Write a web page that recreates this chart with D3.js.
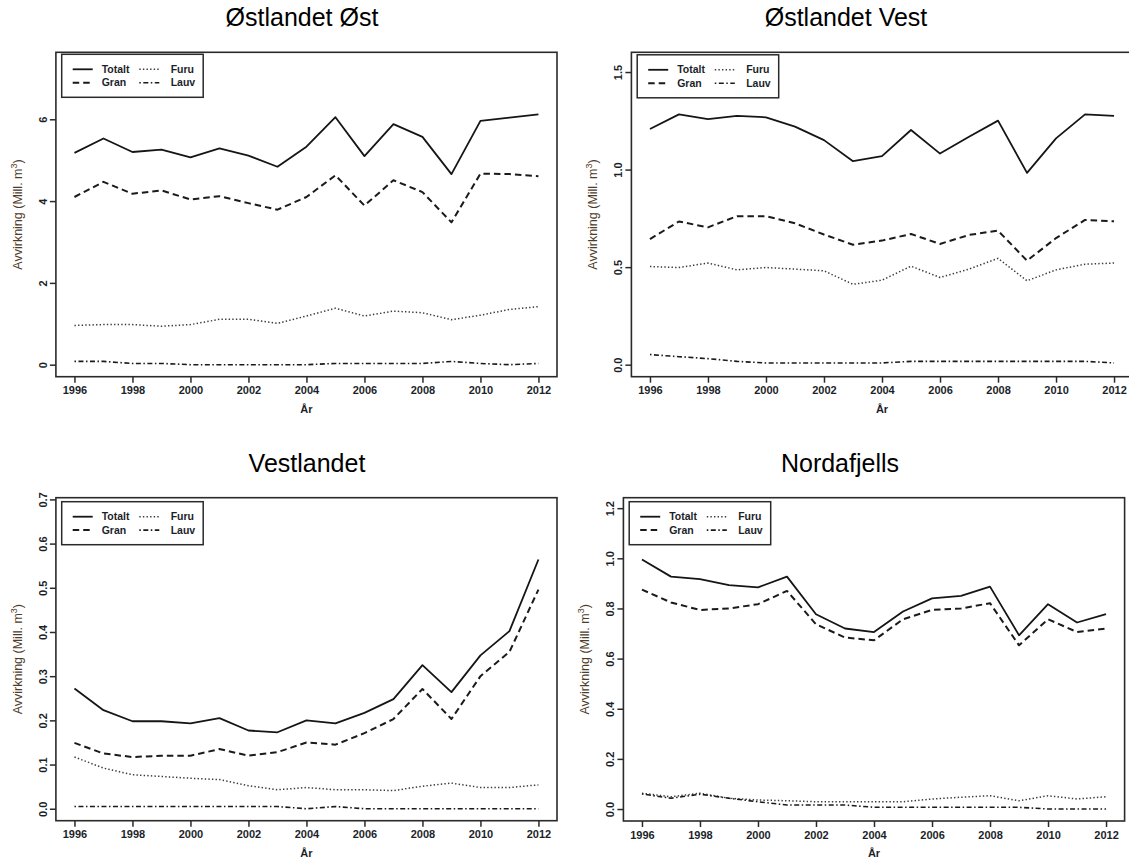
<!DOCTYPE html>
<html>
<head>
<meta charset="utf-8">
<script src="https://cdn.jsdelivr.net/npm/d3@7"></script>
<style>
  html, body { margin: 0; padding: 0; background: #fff; }
  svg { display: block; }
</style>
</head>
<body>
<svg id="chart" width="1129" height="858"></svg>
<script>
// Years on the x axis
const years = [1996, 1997, 1998, 1999, 2000, 2001, 2002, 2003, 2004, 2005, 2006, 2007, 2008, 2009, 2010, 2011, 2012];
const xTicks = [1996, 1998, 2000, 2002, 2004, 2006, 2008, 2010, 2012];

// Østlandet Øst (mill. m3)
const ostOstTotalt = [5.18, 5.53, 5.20, 5.26, 5.07, 5.29, 5.11, 4.84, 5.33, 6.05, 5.10, 5.88, 5.57, 4.66, 5.96, 6.04, 6.12];
const ostOstGran   = [4.10, 4.47, 4.18, 4.26, 4.04, 4.12, 3.95, 3.79, 4.10, 4.63, 3.89, 4.51, 4.22, 3.48, 4.67, 4.66, 4.61];
const ostOstFuru   = [0.96, 0.98, 0.98, 0.94, 0.98, 1.11, 1.11, 1.01, 1.19, 1.38, 1.19, 1.31, 1.27, 1.10, 1.21, 1.35, 1.42];
const ostOstLauv   = [0.08, 0.08, 0.03, 0.03, 0.00, 0.00, 0.00, 0.00, 0.00, 0.03, 0.03, 0.03, 0.03, 0.08, 0.03, 0.00, 0.03];
const ostOstTicks  = [0, 2, 4, 6];

// Østlandet Vest
const ostVestTotalt = [1.208, 1.283, 1.259, 1.275, 1.268, 1.220, 1.151, 1.043, 1.069, 1.203, 1.082, 1.168, 1.251, 0.983, 1.160, 1.283, 1.275];
const ostVestGran   = [0.644, 0.734, 0.704, 0.761, 0.761, 0.725, 0.667, 0.615, 0.636, 0.670, 0.619, 0.665, 0.687, 0.533, 0.649, 0.742, 0.735];
const ostVestFuru   = [0.503, 0.498, 0.521, 0.486, 0.498, 0.490, 0.481, 0.412, 0.433, 0.505, 0.447, 0.490, 0.545, 0.430, 0.486, 0.515, 0.521];
const ostVestLauv   = [0.052, 0.041, 0.031, 0.017, 0.009, 0.009, 0.009, 0.009, 0.009, 0.017, 0.017, 0.017, 0.017, 0.017, 0.017, 0.017, 0.009];
const ostVestTicks  = [0.0, 0.5, 1.0, 1.5];

// Vestlandet
const vestTotalt = [0.272, 0.223, 0.198, 0.198, 0.193, 0.205, 0.177, 0.173, 0.200, 0.193, 0.217, 0.248, 0.325, 0.264, 0.347, 0.402, 0.564];
const vestGran   = [0.149, 0.125, 0.117, 0.120, 0.120, 0.135, 0.120, 0.128, 0.150, 0.145, 0.171, 0.203, 0.271, 0.203, 0.300, 0.355, 0.496];
const vestFuru   = [0.117, 0.092, 0.077, 0.073, 0.069, 0.066, 0.052, 0.043, 0.048, 0.043, 0.043, 0.041, 0.051, 0.058, 0.048, 0.048, 0.054];
const vestLauv   = [0.005, 0.005, 0.005, 0.005, 0.005, 0.005, 0.005, 0.005, 0.000, 0.005, 0.000, 0.000, 0.000, 0.000, 0.000, 0.000, 0.000];
const vestTicks  = [0.0, 0.1, 0.2, 0.3, 0.4, 0.5, 0.6, 0.7];

// Nordafjells
const nordTotalt = [0.995, 0.927, 0.917, 0.893, 0.884, 0.927, 0.777, 0.720, 0.706, 0.788, 0.840, 0.850, 0.887, 0.693, 0.817, 0.744, 0.777];
const nordGran   = [0.875, 0.824, 0.794, 0.800, 0.817, 0.870, 0.737, 0.684, 0.673, 0.757, 0.794, 0.800, 0.821, 0.653, 0.757, 0.706, 0.720];
const nordFuru   = [0.063, 0.049, 0.063, 0.043, 0.036, 0.033, 0.029, 0.029, 0.029, 0.029, 0.040, 0.047, 0.053, 0.033, 0.053, 0.040, 0.049];
const nordLauv   = [0.060, 0.043, 0.059, 0.043, 0.029, 0.016, 0.016, 0.016, 0.007, 0.007, 0.007, 0.007, 0.007, 0.007, 0.000, 0.000, 0.000];
const nordTicks  = [0.0, 0.2, 0.4, 0.6, 0.8, 1.0, 1.2];

const seriesNames = ["Totalt", "Gran", "Furu", "Lauv"];

// Line styles, one per tree-species series
const styles = {
  Totalt: { dash: null,              width: 1.8, color: "#151515" },
  Gran:   { dash: "6.5,4",           width: 2.0, color: "#1a1a1a" },
  Furu:   { dash: "1.4,2.2",         width: 1.5, color: "#3a3a3a" },
  Lauv:   { dash: "1.5,2.5,5,2.5",   width: 1.6, color: "#1a1a1a" }
};

// Panel placement on the page
const panels = [
  { title: "Østlandet Øst",  titleX: 302, series: [ostOstTotalt, ostOstGran, ostOstFuru, ostOstLauv], ticks: ostOstTicks, fmt: d3.format("d"),
    box: { left: 55.9, right: 557, top: 52.3, bottom: 376.7 }, legendDy: 2 },
  { title: "Østlandet Vest", titleX: 846, series: [ostVestTotalt, ostVestGran, ostVestFuru, ostVestLauv], ticks: ostVestTicks, fmt: d3.format(".1f"),
    box: { left: 631.4, right: 1132.6, top: 52.3, bottom: 376.7 }, legendDy: 2.5 },
  { title: "Vestlandet",     titleX: 307, series: [vestTotalt, vestGran, vestFuru, vestLauv], ticks: vestTicks, fmt: d3.format(".1f"),
    box: { left: 55.9, right: 557, top: 497.7, bottom: 820.7 }, legendDy: 4 },
  { title: "Nordafjells",    titleX: 840, series: [nordTotalt, nordGran, nordFuru, nordLauv], ticks: nordTicks, fmt: d3.format(".1f"),
    box: { left: 623.4, right: 1124.6, top: 497.7, bottom: 821 }, legendDy: 4 }
];

const svg = d3.select("#chart");
const FONT = "'Liberation Sans', Arial, sans-serif";
const axisColor = "#2a2a2a";
const labelColor = "#1c1f2a";

panels.forEach(p => {
  const b = p.box;
  const g = svg.append("g");

  // Axis ranges padded by 4% on each side
  const xPad = (years[years.length - 1] - years[0]) * 0.04;
  const x = d3.scaleLinear()
    .domain([years[0] - xPad, years[years.length - 1] + xPad])
    .range([b.left, b.right]);
  const yMax = 1.2 * d3.max(p.series[0]);
  const y = d3.scaleLinear()
    .domain([-0.04 * yMax, 1.04 * yMax])
    .range([b.bottom, b.top]);

  // Title
  g.append("text")
    .attr("x", p.titleX).attr("y", b.top - 26)
    .attr("text-anchor", "middle")
    .attr("font-family", FONT).attr("font-size", 25)
    .attr("fill", "#000")
    .text(p.title);

  // Series lines
  const line = d3.line().x((d, i) => x(years[i])).y(d => y(d));
  p.series.forEach((vals, k) => {
    const s = styles[seriesNames[k]];
    g.append("path")
      .datum(vals)
      .attr("d", line)
      .attr("fill", "none")
      .attr("stroke", s.color)
      .attr("stroke-width", s.width)
      .attr("stroke-dasharray", s.dash)
      .attr("stroke-linejoin", "round");
  });

  // Bottom axis
  const xAxis = g.append("g").attr("transform", `translate(0,${b.bottom})`)
    .call(d3.axisBottom(x).tickValues(xTicks).tickFormat(d3.format("d")).tickSize(6).tickPadding(4));
  xAxis.select(".domain").remove();
  xAxis.selectAll(".tick line").attr("stroke", axisColor).attr("stroke-width", 1.5);
  xAxis.selectAll(".tick text")
    .attr("font-family", FONT).attr("font-size", 11).attr("font-weight", "bold")
    .attr("fill", labelColor);

  // Left axis with labels parallel to the axis
  const yAxis = g.append("g").attr("transform", `translate(${b.left},0)`)
    .call(d3.axisLeft(y).tickValues(p.ticks).tickFormat(p.fmt).tickSize(6).tickPadding(0));
  yAxis.select(".domain").remove();
  yAxis.selectAll(".tick line").attr("stroke", axisColor).attr("stroke-width", 1.5);
  yAxis.selectAll(".tick text")
    .attr("x", null).attr("dy", null)
    .attr("transform", "translate(-13,0) rotate(-90)")
    .attr("text-anchor", "middle")
    .attr("dominant-baseline", "central")
    .attr("font-family", FONT).attr("font-size", 11).attr("font-weight", "bold")
    .attr("fill", labelColor);

  // Plot frame
  g.append("rect")
    .attr("x", b.left).attr("y", b.top)
    .attr("width", b.right - b.left).attr("height", b.bottom - b.top)
    .attr("fill", "none").attr("stroke", axisColor).attr("stroke-width", 1.6);

  // Axis titles
  g.append("text")
    .attr("x", (b.left + b.right) / 2).attr("y", b.bottom + 36)
    .attr("text-anchor", "middle")
    .attr("font-family", FONT).attr("font-size", 11).attr("font-weight", "bold")
    .attr("fill", labelColor)
    .text("År");

  const yt = g.append("text")
    .attr("transform", `translate(${b.left - 34},${(b.top + b.bottom) / 2}) rotate(-90)`)
    .attr("text-anchor", "middle")
    .attr("font-family", FONT).attr("font-size", 12.5)
    .attr("fill", "#4e3c2a");
  yt.append("tspan").text("Avvirkning (Mill. m");
  yt.append("tspan").attr("font-size", 9).attr("dy", -5).text("3");
  yt.append("tspan").attr("dy", 5).text(")");

  // Legend
  const lx = b.left + 5.8, ly = b.top + p.legendDy;
  const lg = g.append("g").attr("transform", `translate(${lx},${ly})`);
  lg.append("rect")
    .attr("width", 141.5).attr("height", 43)
    .attr("fill", "#fff").attr("stroke", axisColor).attr("stroke-width", 1.5);
  const legendItems = [
    { name: "Totalt", col: 0, row: 0 },
    { name: "Furu",   col: 1, row: 0 },
    { name: "Gran",   col: 0, row: 1 },
    { name: "Lauv",   col: 1, row: 1 }
  ];
  legendItems.forEach(it => {
    const s = styles[it.name];
    const rowY = 15 + it.row * 13.4;
    const x0 = it.col === 0 ? 11 : 77.6;
    lg.append("line")
      .attr("x1", x0).attr("x2", x0 + 20)
      .attr("y1", rowY).attr("y2", rowY)
      .attr("stroke", s.color).attr("stroke-width", s.width)
      .attr("stroke-dasharray", s.dash);
    lg.append("text")
      .attr("x", it.col === 0 ? 40 : 109).attr("y", rowY)
      .attr("dy", "0.35em")
      .attr("font-family", FONT).attr("font-size", 10.5).attr("font-weight", "bold")
      .attr("fill", labelColor)
      .text(it.name);
  });
});
</script>
</body>
</html>
